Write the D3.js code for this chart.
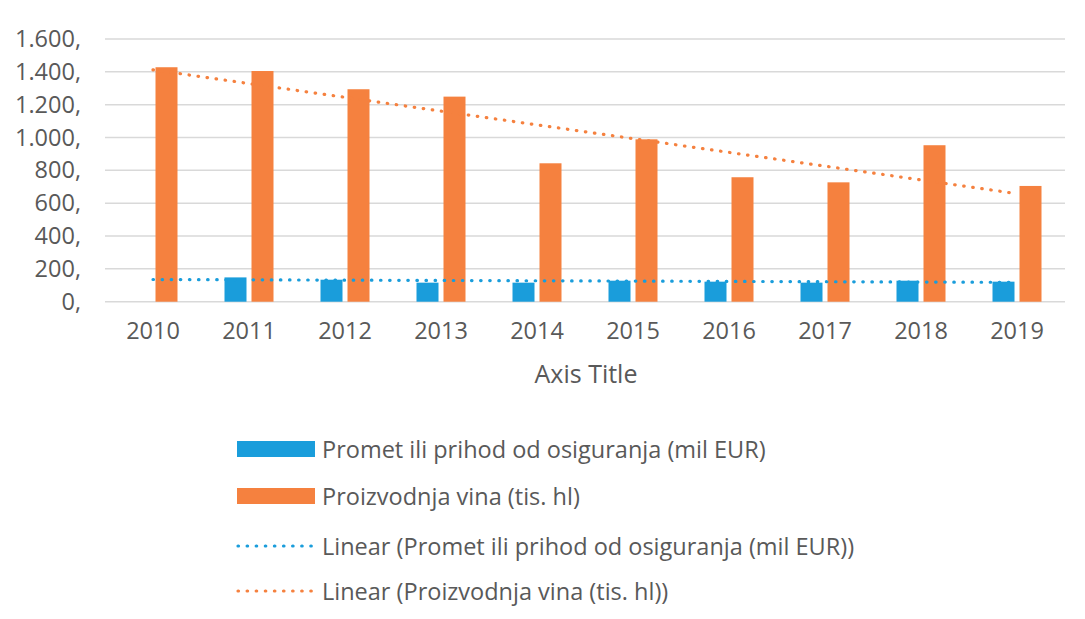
<!DOCTYPE html>
<html><head><meta charset="utf-8">
<script src="https://cdn.jsdelivr.net/npm/d3@7/dist/d3.min.js"></script>
<style>
body{margin:0;background:#fff;}
text{font-family:"Open Sans",sans-serif;fill:#595959;}
</style></head>
<body><svg id="c" width="1085" height="619"></svg>
<script>
const years = ["2010","2011","2012","2013","2014","2015","2016","2017","2018","2019"];
const promet = [null,148,134,116,116,128,122,116,128,122];
const vino = [1428,1405,1294,1249,843,989,758,727,953,705];
const yTicks = [0,200,400,600,800,1000,1200,1400,1600];
const seriesNames = ["Promet ili prihod od osiguranja (mil EUR)","Proizvodnja vina (tis. hl)"];
const trendNames = ["Linear (Promet ili prihod od osiguranja (mil EUR))","Linear (Proizvodnja vina (tis. hl))"];
const colors = ["#1a9ddb","#f5813f"];

const svg = d3.select("#c");
const pL=105, pR=1065, pT=39, pB=301.7;
const x = d3.scaleBand().domain(years).range([pL,pR]).padding(0);
const y = d3.scaleLinear().domain([0,1600]).range([pB,pT]);
const fmt = v => d3.format(",")(v).replace(/,/g,".")+",";
const fs = "23.5px";

// gridlines
svg.append("g").selectAll("line").data(yTicks).join("line")
  .attr("x1",pL).attr("x2",pR).attr("y1",d=>y(d)).attr("y2",d=>y(d))
  .attr("stroke","#d9d9d9").attr("stroke-width",1.5);

// y axis labels
const yAxis = d3.axisLeft(y).tickValues(yTicks).tickFormat(fmt).tickSize(0).tickPadding(0);
const yg = svg.append("g").attr("transform",`translate(81,0)`).call(yAxis);
yg.select(".domain").remove();
yg.selectAll("text").style("font-size",fs).attr("fill","#595959").attr("font-family","Open Sans");

// x axis labels
const xAxis = d3.axisBottom(x).tickSize(0).tickPadding(0);
const xg = svg.append("g").attr("transform",`translate(0,${pB+21})`).call(xAxis);
xg.select(".domain").remove();
xg.selectAll("text").style("font-size",fs).attr("fill","#595959").attr("font-family","Open Sans");

svg.append("text").attr("x",(pL+pR)/2+1).attr("y",383).attr("text-anchor","middle")
  .style("font-size","25px").text("Axis Title");

// bars
const bw=22, gap=2.5;
svg.append("g").selectAll("rect").data(years.map((yr,i)=>({yr,v:promet[i]})).filter(d=>d.v!=null)).join("rect")
  .attr("x",d=>x(d.yr)+x.bandwidth()/2-gap-bw).attr("width",bw)
  .attr("y",d=>y(d.v)).attr("height",d=>pB-y(d.v)).attr("fill",colors[0]);
svg.append("g").selectAll("rect").data(years.map((yr,i)=>({yr,v:vino[i]}))).join("rect")
  .attr("x",d=>x(d.yr)+x.bandwidth()/2+gap).attr("width",bw)
  .attr("y",d=>y(d.v)).attr("height",d=>pB-y(d.v)).attr("fill",colors[1]);

// linear trendlines (least squares over category index)
function trend(vals){
  const pts = vals.map((v,i)=>[i+1,v]).filter(p=>p[1]!=null);
  const mx=d3.mean(pts,p=>p[0]), my=d3.mean(pts,p=>p[1]);
  const b=d3.sum(pts,p=>(p[0]-mx)*(p[1]-my))/d3.sum(pts,p=>(p[0]-mx)**2);
  const a=my-b*mx;
  return [1,vals.length].map(i=>[i, a+b*i]);
}
const cx = i => x(years[i-1])+x.bandwidth()/2;
const line = d3.line().x(d=>cx(d[0])).y(d=>y(d[1]));
[promet,vino].forEach((vals,k)=>{
  svg.append("path").attr("d",line(trend(vals))).attr("fill","none")
    .attr("stroke",colors[k]).attr("stroke-width",3.2).attr("stroke-linecap","round")
    .attr("stroke-dasharray","0.5,8.6");
});

// legend
const lg = svg.append("g");
const rows=[449,496,546,591];
[0,1].forEach(k=>{
  lg.append("rect").attr("x",237).attr("y",rows[k]-8).attr("width",78).attr("height",16).attr("fill",colors[k]);
  lg.append("text").attr("x",322).attr("y",rows[k]+8.5).style("font-size",fs).text(seriesNames[k]);
});
[0,1].forEach(k=>{
  lg.append("line").attr("x1",238).attr("x2",314).attr("y1",rows[k+2]).attr("y2",rows[k+2])
    .attr("stroke",colors[k]).attr("stroke-width",3.2).attr("stroke-linecap","round")
    .attr("stroke-dasharray","0.5,8.6");
  lg.append("text").attr("x",322).attr("y",rows[k+2]+8.5).style("font-size",fs).text(trendNames[k]);
});
</script></body></html>
